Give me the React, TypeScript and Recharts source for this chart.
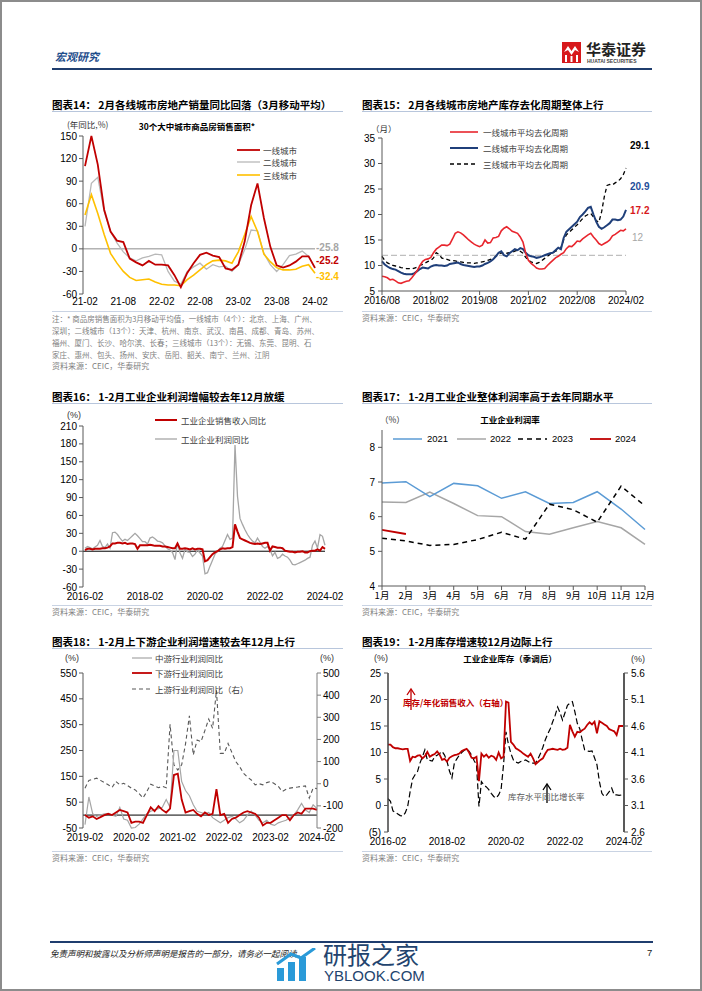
import React from "react";
import { LineChart, Line, XAxis, YAxis, ReferenceLine, LabelList } from "recharts";

const FONT = "'Liberation Sans', Arial, 'Noto Sans CJK SC', sans-serif";
const CJK = "'Noto Sans CJK SC', 'Liberation Sans', sans-serif";

// 图表14: 30城商品房销售面积同比 (3月移动平均), 21-02 ~ 24-02
const labels14 = ["21-02", "21-08", "22-02", "22-08", "23-02", "23-08", "24-02"];
const tier1Sales = [110, 150, 112, 52, 23, 11, 9, -13, -18, -22, -16, -21, -21, -22, -35, -51, -32, -19, -8, -5, -9, -11, -26, -28, -21, 10, 58, 87, 41, 3, -22, -25, -22, -17, -10, -10, -25.2];
const tier2Sales = [30, 87, 95, 50, 23, 8, -4, -12, -16, -12, -10, -7, -8, -30, -43, -47, -30, -24, -19, -27, -21, -24, -23, -30, -21, -1, 25, 24, -6, -21, -30, -21, -9, -7, -3, -10, -25.8];
const tier3Sales = [45, 72, 47, 19, -6, -19, -30, -38, -42, -41, -40, -44, -47, -48, -48, -49, -41, -35, -28, -21, -16, -15, -16, -19, -4, 19, 43, 23, -7, -17, -25, -28, -28, -27, -23, -21, -32.4];

// 图表15: 平均去化周期 (月), 2016/08 ~ 2024/02
const labels15 = ["2016/08", "2018/02", "2019/08", "2021/02", "2022/08", "2024/02"];
const tier1Cycle = [
  7.9, 7.8, 7.6, 7.2, 7.3, 7.0, 6.6, 6.5, 6.7, 6.9,
  7.0, 7.6, 8.3, 9.0, 10.0, 10.8, 11.2, 11.3, 11.6, 12.5,
  13.2, 13.6, 14.0, 14.0, 13.9, 14.2, 15.2, 16.3, 16.6, 16.4,
  16.0, 15.5, 15.0, 14.6, 14.2, 13.9, 13.7, 14.0, 15.0, 14.4,
  14.5, 15.4, 15.5, 15.7, 16.8, 17.3, 17.6, 17.2, 16.7, 16.5,
  16.3, 15.6, 14.6, 12.4, 11.0, 10.4, 10.0, 9.5, 9.3, 9.3,
  9.4, 10.0, 10.5, 11.0, 11.5, 11.8, 12.2, 12.5, 13.3, 13.8,
  13.7, 14.2, 14.8, 14.7, 15.2, 15.6, 16.0, 16.3, 15.6, 15.0,
  14.3, 14.0, 14.3, 14.6, 15.0, 15.8, 16.1, 16.5, 16.9, 16.8,
  17.2,
];
const tier2Cycle = [
  10.8, 10.2, 9.8, 9.5, 9.3, 9.2, 8.9, 8.6, 8.4, 8.3,
  8.3, 8.3, 8.5, 8.9, 9.3, 9.6, 9.5, 9.4, 9.8, 10.0,
  10.1, 10.0, 10.0, 9.9, 10.0, 10.3, 10.4, 10.5, 10.6, 10.3,
  10.1, 10.0, 9.9, 9.8, 9.7, 9.8, 9.8, 10.0, 10.3, 10.5,
  10.8, 11.2, 11.8, 12.5, 12.8, 12.0, 11.8, 12.4, 12.8, 13.2,
  13.0, 13.4, 13.2, 12.5, 12.0, 11.8, 11.7, 11.5, 11.6, 11.8,
  12.0, 12.2, 12.4, 12.5, 13.0, 13.5, 13.2, 15.4, 16.6, 17.1,
  17.6, 18.1, 18.6, 19.5, 20.0, 20.6, 21.3, 21.5, 20.0, 18.6,
  17.6, 17.2, 17.5, 17.9, 18.3, 19.0, 19.0, 18.9, 19.0, 19.6,
  20.9,
];
const tier3Cycle = [
  11.8, 11.0, 10.5, 10.3, 10.0, 9.9, 9.8, 9.6, 9.5, 9.4,
  9.4, 9.3, 9.5, 9.7, 10.0, 10.2, 10.5, 10.8, 11.0, 11.5,
  12.5, 12.2, 11.5, 11.3, 11.2, 11.0, 11.0, 10.9, 10.8, 10.7,
  10.6, 10.5, 10.5, 10.5, 10.4, 10.5, 10.6, 10.7, 10.8, 11.0,
  11.2, 11.4, 11.8, 12.2, 12.5, 12.4, 12.4, 12.5, 12.6, 12.8,
  13.0, 12.8, 12.4, 11.6, 11.0, 10.7, 10.5, 10.4, 10.6, 11.0,
  11.4, 11.8, 12.2, 12.5, 12.8, 13.0, 13.5, 15.0, 16.0, 16.5,
  17.0, 17.5, 18.0, 18.6, 19.2, 19.7, 20.0, 20.2, 19.5, 18.8,
  18.5, 20.5, 23.5, 25.7, 25.9, 25.8, 26.2, 26.5, 27.0, 27.8,
  29.1,
];
const cycleRef = 12;

// 图表16: 工业企业营收/利润同比 (%), 2016-02 ~ 2024-02
const labels16 = ["2016-02", "2018-02", "2020-02", "2022-02", "2024-02"];
const revenueYoy = [
  2, 4, 4, 3, 4, 4, 4, 5, 5, 6, 8,
  13, 13, 14, 14, 13, 14, 12, 13, 13, 12, 4, 10,
  10, 10, 10, 11, 10, 9, 9, 9, 8, 8, 7, 6,
  5, 5, 13, 4, 4, 5, 4, 3, 5, 3, 4, 4,
  3, -17, -15, -10, -5, -2, 0, 3, 5, 4, 5, 5,
  7, 45, 33, 22, 20, 18, 16, 14, 13, 12, 13, 12,
  13, 14, 14, 1, 8, 7, 6, 6, 5, 1, 0, -1,
  -1, -2, -1, -1, 0, -2, -2, 0, 1, 1, 3, 1,
  7, 4,
];
const profitYoy = [
  5, 8, 6, 4, 7, 10, 18, 8, 6, 12, 5,
  31, 32, 28, 22, 17, 20, 18, 22, 26, 30, 26, 21,
  16, 16, 12, 22, 24, 21, 17, 16, 14, 9, 4, 2,
  -2, -14, 14, -3, -12, 3, -1, -2, -9, -5, 2, -3,
  -8, -38, -36, -25, -15, -5, 0, 5, 8, 18, 28, 20,
  22, 178, 92, 55, 45, 36, 28, 22, 17, 14, 22, 15,
  8, 5, 8, 3, -8, -2, -12, -10, -5, -8, -10, -15,
  -22, -23, -21, -19, -17, -15, -12, -10, 10, 17, 5, 28,
  25, 10,
];

// 图表17: 工业企业利润率 (%)
const months17 = ["1月", "2月", "3月", "4月", "5月", "6月", "7月", "8月", "9月", "10月", "11月", "12月"];
const margin2021 = [6.97, 7.01, 6.58, 6.96, 6.89, 6.53, 6.72, 6.38, 6.41, 6.72, 6.22, 5.63];
const margin2022 = [6.42, 6.41, 6.71, 6.38, 6.03, 6.0, 5.57, 5.49, 5.68, 5.86, 5.68, 5.2];
const margin2023 = [5.38, 5.3, 5.17, 5.2, 5.34, 5.55, 5.35, 6.36, 6.2, 5.84, 6.88, 6.31];
const margin2024 = [5.62, 5.5];

// 图表18: 上中下游利润同比 (%), 2019-02 ~ 2024-02
const labels18 = ["2019-02", "2020-02", "2021-02", "2022-02", "2023-02", "2024-02"];
const midProfit = [
  -37, 70, 5, -5, 0, 5, 5, 0, -5, 30, -15, -20,
  -50, -48, -35, -15, 5, 15, 20, 25, 30, 60, 30, 250,
  250, 130, 95, 75, 40, 15, 10, 5, 10, -10, -20, -30,
  -20, -10, -5, -15, -30, -20, 0, 15, 0, -20, -30, -20,
  -35, -40, -30, -25, -20, -10, 0, 20, 45, 20, 10, 40,
  25,
];
const downProfit = [
  0, -10, -5, -15, -8, 0, 5, 0, 10, 20, 15, 10,
  -30, -25, -25, -30, 0, 30, 15, 35, 20, 10, 25, 155,
  160, 60, 10, 15, 20, 5, -5, 10, 0, 5, 100, 0,
  5, -30, -15, -10, 0, 10, 15, 10, 5, -10, -40, -30,
  -30, -20, -10, 0, 0, -20, 0, 10, 5, 25, 25, 25,
  20,
];
const upProfit = [
  -20, 15, 20, 25, 15, 5, -5, -17, 10, -5, 2, -8,
  -20, -28, -45, -65, -35, -2, -10, -18, -12, -18, 268, 85,
  62, 85, 180, 307, 130, 197, 190, 240, 292, 250, 422, 137,
  137, 182, 140, 100, 77, 47, 30, 17, -5, 0, -5, 5,
  10, 0, -12, -35, -25, -20, -17, -15, -12, -10, -65, -20,
  -22,
];

// 图表19: 工业企业库存 (季调后), 2016-02 ~ 2024-02
const labels19 = ["2016-02", "2018-02", "2020-02", "2022-02", "2024-02"];
const invToSales = [
  4.25, 4.25, 4.2, 4.18, 4.18, 4.17, 4.16, 4.17, 4.17, 3.94,
  4.02, 4.01, 4.04, 4.05, 3.99, 4.03, 4.11, 4.02, 4.05, 4.07,
  4.12, 4.06, 3.96, 3.98, 3.93, 4.0, 4.03, 4.05, 4.06, 4.08,
  4.13, 4.15, 4.17, 4.1, 4.0, 3.99, 4.02, 3.56, 4.08, 4.02,
  4.06, 4.0, 4.04, 4.02, 3.96, 4.1, 3.99, 4.02, 5.06, 5.04,
  4.3, 4.25, 4.18, 4.15, 4.12, 4.08, 4.05, 4.02, 4.08, 3.99,
  3.88, 3.92, 3.96, 3.99, 4.08, 4.15, 4.16, 4.17, 4.16, 4.15,
  4.17, 4.15, 4.16, 4.19, 4.62, 4.5, 4.4, 4.49, 4.48, 4.52,
  4.55, 4.62, 4.67, 4.63, 4.68, 4.46, 4.69, 4.66, 4.63, 4.6,
  4.54, 4.52, 4.5, 4.43, 4.6, 4.6, 4.6,
];
const invYoy = [
  1.3, 0.8, -1.0, -1.3, -1.6, -1.9, -2.0, -1.4, -0.2, 2.6,
  5.0, 5.8, 6.4, 8.0, 9.2, 10.5, 8.6, 8.5, 8.4, 9.2,
  9.5, 9.8, 10.2, 9.5, 8.3, 6.5, 5.2, 8.0, 8.8, 9.5,
  10.0, 10.4, 10.7, 10.2, 9.5, 8.5, 7.7, -0.2, 4.5, 3.9,
  3.5, 3.0, 2.3, 1.7, 1.4, 2.0, 3.0, 7.7, 13.9, 11.5,
  9.8, 8.6, 8.2, 8.0, 8.3, 8.4, 8.6, 8.3, 8.0, 8.0,
  8.0, 8.8, 9.8, 11.0, 12.4, 13.5, 14.5, 15.8, 17.0, 18.6,
  17.5, 16.1, 17.5, 18.9, 19.3, 19.6, 17.7, 15.5, 14.5, 12.4,
  10.5, 10.3, 10.2, 10.3, 9.0, 7.7, 4.5, 2.3, 1.7, 2.0,
  2.6, 3.3, 2.0, 2.0, 1.9, 2.0, 2.0,
];

const d14 = tier1Sales.map((v, i) => ({ i, t1: v, t2: tier2Sales[i], t3: tier3Sales[i] }));
const d15 = tier1Cycle.map((v, i) => ({ i, t1: v, t2: tier2Cycle[i], t3: tier3Cycle[i] }));
const d16 = revenueYoy.map((v, i) => ({ i, rev: v, pro: profitYoy[i] }));
const d17 = months17.map((m, i) => ({
  m,
  y21: margin2021[i],
  y22: margin2022[i],
  y23: margin2023[i],
  y24: i < margin2024.length ? margin2024[i] : null,
}));
const d18 = midProfit.map((v, i) => ({ i, mid: v, down: downProfit[i], up: upProfit[i] }));
const d19 = invToSales.map((v, i) => ({ i, ratio: v, yoy: invYoy[i] }));

const tick = { fontSize: 10, fill: "#000", fontFamily: FONT };
const axisGray = { stroke: "#595959" };

function Txt({ x, y, size = 9, color = "#000", bold = false, italic = false, align = "left", family = FONT, children }: any) {
  const tx = align === "center" ? "-50%" : align === "right" ? "-100%" : "0";
  return (
    <div
      style={{
        position: "absolute",
        left: x,
        top: y,
        transform: `translate(${tx}, -50%)`,
        fontSize: size,
        color,
        fontWeight: bold ? 700 : 400,
        fontStyle: italic ? "italic" : "normal",
        lineHeight: 1.2,
        whiteSpace: "nowrap",
        fontFamily: family,
      }}
    >
      {children}
    </div>
  );
}

function HLine({ x, y, w, h = 1, color = "#c9d3e3" }: any) {
  return <div style={{ position: "absolute", left: x, top: y, width: w, height: h, background: color }} />;
}

function Swatch({ x, y, w, color, width = 1.5, dash }: any) {
  return (
    <svg style={{ position: "absolute", left: x, top: y - 5 }} width={w} height={10}>
      <line x1={0} y1={5} x2={w} y2={5} stroke={color} strokeWidth={width} strokeDasharray={dash} />
    </svg>
  );
}

// label only on the last point of a series
const endLabel = (last: number, color: string, dy: number, dx = 1) => (p: any) => {
  if (p.index !== last) return null;
  const x = p.x ?? p.viewBox?.x;
  const y = p.y ?? p.viewBox?.y;
  return (
    <text x={x + dx} y={y + dy} fill={color} fontSize={10} fontWeight={700} fontFamily={FONT} dominantBaseline="middle">
      {p.value}
    </text>
  );
};

function Title({ x, y, w, children }: any) {
  return (
    <>
      <Txt x={x} y={y} size={10.5} bold family={CJK}>{children}</Txt>
      <HLine x={x} y={y + 6} w={w} color="#b8c6dc" />
    </>
  );
}

function Source({ x, y }: any) {
  return <Txt x={x} y={y} size={8} color="#808080" family={CJK}>资料来源：CEIC，华泰研究</Txt>;
}

export default function App() {
  return (
    <div style={{ position: "fixed", left: 0, top: 0, width: 702, height: 991, background: "#fff", overflow: "hidden", fontFamily: FONT }}>
      {/* header */}
      <Txt x={55} y={57} size={11} bold italic color="#1f4e8c" family={CJK}>宏观研究</Txt>
      <svg style={{ position: "absolute", left: 562, top: 42 }} width={19} height={21}>
        <rect width={19} height={21} fill="#d7191c" />
        <path d="M2 10 L6 4 L9.5 9 L13 4 L17 10 L13 8 L9.5 13 L6 8 Z" fill="#fff" />
        <rect x={3} y={13} width={2} height={7} fill="#fff" />
        <rect x={8.5} y={14} width={2} height={6} fill="#fff" />
        <rect x={14} y={13} width={2} height={7} fill="#fff" />
      </svg>
      <Txt x={586} y={49} size={15} bold color="#222" family={CJK}>华泰证券</Txt>
      <Txt x={587} y={61} size={5} bold color="#444">HUATAI SECURITIES</Txt>
      <HLine x={52} y={68} w={600} h={2} color="#1f3d6e" />

      {/* 图表14 */}
      <Title x={52} y={105} w={291}>图表14：&nbsp;2月各线城市房地产销量同比回落（3月移动平均）</Title>
      <Txt x={67} y={124} size={8.5} color="#333" family={CJK}>(年同比,%)</Txt>
      <Txt x={197} y={126} size={8.5} bold align="center" family={CJK}>30个大中城市商品房销售面积*</Txt>
      <div style={{ position: "absolute", left: 40, top: 120 }}>
        <LineChart width={310} height={196} data={d14} margin={{ top: 16, right: 35, bottom: 0, left: 0 }}>
          <XAxis dataKey="i" type="number" domain={[0, 36]} ticks={[0, 6, 12, 18, 24, 30, 36]} tickFormatter={(v: number) => labels14[v / 6]} axisLine={false} tickLine={false} tickSize={0} tickMargin={4} height={22} interval={0} tick={tick} padding={{ left: 2, right: 0 }} />
          <YAxis width={43} domain={[-60, 150]} ticks={[-60, -30, 0, 30, 60, 90, 120, 150]} interval={0} tick={tick} tickSize={4} tickMargin={2} axisLine={axisGray} tickLine={axisGray} />
          <ReferenceLine y={0} stroke="#8c8c8c" />
          <Line dataKey="t2" stroke="#b8b8b8" strokeWidth={1.3} dot={false} isAnimationActive={false}>
            <LabelList dataKey="t2" content={endLabel(36, "#a6a6a6", -20)} />
          </Line>
          <Line dataKey="t3" stroke="#ffc000" strokeWidth={1.6} dot={false} isAnimationActive={false}>
            <LabelList dataKey="t3" content={endLabel(36, "#ffc000", 4)} />
          </Line>
          <Line dataKey="t1" stroke="#c00000" strokeWidth={1.8} dot={false} isAnimationActive={false}>
            <LabelList dataKey="t1" content={endLabel(36, "#c00000", -6)} />
          </Line>
        </LineChart>
      </div>
      <Swatch x={237} y={150} w={23} color="#c00000" width={1.8} />
      <Txt x={263} y={150} size={8.5} color="#404040" family={CJK}>一线城市</Txt>
      <Swatch x={237} y={162} w={23} color="#b8b8b8" width={1.3} />
      <Txt x={263} y={162} size={8.5} color="#404040" family={CJK}>二线城市</Txt>
      <Swatch x={237} y={175} w={23} color="#ffc000" width={1.6} />
      <Txt x={263} y={175} size={8.5} color="#404040" family={CJK}>三线城市</Txt>
      <HLine x={52} y={311} w={291} color="#c9d3e3" />
      <Txt x={52} y={318} size={7.5} color="#808080" family={CJK}>注：* 商品房销售面积为3月移动平均值，一线城市（4个）：北京、上海、广州、</Txt>
      <Txt x={52} y={330} size={7.5} color="#808080" family={CJK}>深圳；二线城市（13个）：天津、杭州、南京、武汉、南昌、成都、青岛、苏州、</Txt>
      <Txt x={52} y={342} size={7.5} color="#808080" family={CJK}>福州、厦门、长沙、哈尔滨、长春；三线城市（13个）：无锡、东莞、昆明、石</Txt>
      <Txt x={52} y={354} size={7.5} color="#808080" family={CJK}>家庄、惠州、包头、扬州、安庆、岳阳、韶关、南宁、兰州、江阴</Txt>
      <Source x={52} y={366} />

      {/* 图表15 */}
      <Title x={362} y={105} w={290}>图表15：&nbsp;2月各线城市房地产库存去化周期整体上行</Title>
      <Txt x={371} y={128} size={8.5} color="#333" family={CJK}>（月）</Txt>
      <div style={{ position: "absolute", left: 350, top: 120 }}>
        <LineChart width={310} height={191} data={d15} margin={{ top: 18, right: 34, bottom: 0, left: 0 }}>
          <XAxis dataKey="i" type="number" domain={[0, 90]} ticks={[0, 18, 36, 54, 72, 90]} tickFormatter={(v: number) => labels15[v / 18]} axisLine={axisGray} tickLine={axisGray} tickSize={4} tickMargin={2} height={20} interval={0} tick={tick} />
          <YAxis width={32} domain={[5, 35]} ticks={[5, 10, 15, 20, 25, 30, 35]} interval={0} tick={tick} tickSize={4} tickMargin={3} axisLine={axisGray} tickLine={axisGray} />
          <ReferenceLine y={cycleRef} stroke="#b0b0b0" strokeDasharray="6 3" />
          <Line dataKey="t3" stroke="#000" strokeWidth={1.3} strokeDasharray="4 3" dot={false} isAnimationActive={false}>
            <LabelList dataKey="t3" content={endLabel(90, "#000", -22, 4)} />
          </Line>
          <Line dataKey="t2" stroke="#1f3f7a" strokeWidth={2} dot={false} isAnimationActive={false}>
            <LabelList dataKey="t2" content={endLabel(90, "#1f4e9a", -23, 4)} />
          </Line>
          <Line dataKey="t1" stroke="#e8262e" strokeWidth={1.6} dot={false} isAnimationActive={false}>
            <LabelList dataKey="t1" content={endLabel(90, "#d7191c", -17, 4)} />
          </Line>
        </LineChart>
      </div>
      <Txt x={632} y={238} size={10} color="#a6a6a6">{cycleRef}</Txt>
      <Swatch x={450} y={132} w={28} color="#e8262e" width={1.6} />
      <Txt x={483} y={132} size={8.5} color="#404040" family={CJK}>一线城市平均去化周期</Txt>
      <Swatch x={450} y={148} w={28} color="#1f3f7a" width={2} />
      <Txt x={483} y={148} size={8.5} color="#404040" family={CJK}>二线城市平均去化周期</Txt>
      <Swatch x={450} y={164} w={28} color="#000" width={1.3} dash="4 3" />
      <Txt x={483} y={164} size={8.5} color="#404040" family={CJK}>三线城市平均去化周期</Txt>
      <HLine x={362} y={311} w={290} color="#c9d3e3" />
      <Source x={362} y={318} />

      {/* 图表16 */}
      <Title x={52} y={397} w={291}>图表16：&nbsp;1-2月工业企业利润增幅较去年12月放缓</Title>
      <Txt x={67} y={415} size={9} color="#333">(%)</Txt>
      <div style={{ position: "absolute", left: 40, top: 410 }}>
        <LineChart width={310} height={197} data={d16} margin={{ top: 16, right: 25, bottom: 0, left: 0 }}>
          <XAxis dataKey="i" type="number" domain={[0, 96]} ticks={[0, 24, 48, 72, 96]} tickFormatter={(v: number) => labels16[v / 24]} axisLine={false} tickLine={false} tickSize={0} tickMargin={6} height={20} interval={0} tick={tick} padding={{ left: 2, right: 0 }} />
          <YAxis width={43} domain={[-60, 210]} ticks={[-60, -30, 0, 30, 60, 90, 120, 150, 180, 210]} interval={0} tick={tick} tickSize={4} tickMargin={2} axisLine={axisGray} tickLine={axisGray} />
          <ReferenceLine y={0} stroke="#000" />
          <Line dataKey="pro" stroke="#a6a6a6" strokeWidth={1.3} dot={false} isAnimationActive={false} />
          <Line dataKey="rev" stroke="#c00000" strokeWidth={2} dot={false} isAnimationActive={false} />
        </LineChart>
      </div>
      <Swatch x={155} y={420} w={22} color="#c00000" width={2} />
      <Txt x={181} y={420} size={8.5} color="#404040" family={CJK}>工业企业销售收入同比</Txt>
      <Swatch x={155} y={439} w={22} color="#a6a6a6" width={1.3} />
      <Txt x={181} y={439} size={8.5} color="#404040" family={CJK}>工业企业利润同比</Txt>
      <HLine x={52} y={605} w={291} color="#c9d3e3" />
      <Source x={52} y={612} />

      {/* 图表17 */}
      <Title x={362} y={397} w={290}>图表17：&nbsp;1-2月工业企业整体利润率高于去年同期水平</Title>
      <Txt x={380} y={419} size={8.5} color="#333" family={CJK}>（%）</Txt>
      <Txt x={510} y={419} size={8.5} bold align="center" family={CJK}>工业企业利润率</Txt>
      <div style={{ position: "absolute", left: 350, top: 410 }}>
        <LineChart width={310} height={198} data={d17} margin={{ top: 20, right: 15, bottom: 0, left: 0 }}>
          <XAxis dataKey="m" axisLine={axisGray} tickLine={axisGray} tickSize={4} tickMargin={2} height={22} interval={0} tick={{ ...tick, fontFamily: CJK, fontSize: 9.5 }} />
          <YAxis width={32} domain={[4, 8.5]} ticks={[4, 5, 6, 7, 8]} interval={0} tick={tick} tickSize={4} tickMargin={3} axisLine={axisGray} tickLine={axisGray} />
          <Line dataKey="y22" stroke="#a6a6a6" strokeWidth={1.5} dot={false} isAnimationActive={false} />
          <Line dataKey="y21" stroke="#5b9bd5" strokeWidth={1.5} dot={false} isAnimationActive={false} />
          <Line dataKey="y23" stroke="#000" strokeWidth={1.5} strokeDasharray="5 4" dot={false} isAnimationActive={false} />
          <Line dataKey="y24" stroke="#c00000" strokeWidth={1.8} dot={false} isAnimationActive={false} />
        </LineChart>
      </div>
      <Swatch x={393} y={439} w={29} color="#5b9bd5" width={1.5} />
      <Txt x={427} y={439} size={9.5}>2021</Txt>
      <Swatch x={457} y={439} w={29} color="#a6a6a6" width={1.5} />
      <Txt x={490} y={439} size={9.5}>2022</Txt>
      <Swatch x={518} y={439} w={29} color="#000" width={1.5} dash="5 4" />
      <Txt x={552} y={439} size={9.5}>2023</Txt>
      <Swatch x={590} y={439} w={21} color="#c00000" width={1.8} />
      <Txt x={615} y={439} size={9.5}>2024</Txt>
      <HLine x={362} y={605} w={290} color="#c9d3e3" />
      <Source x={362} y={612} />

      {/* 图表18 */}
      <Title x={52} y={642} w={291}>图表18：&nbsp;1-2月上下游企业利润增速较去年12月上行</Title>
      <Txt x={65} y={658} size={9} color="#333">(%)</Txt>
      <Txt x={320} y={658} size={9} color="#333">(%)</Txt>
      <div style={{ position: "absolute", left: 40, top: 655 }}>
        <LineChart width={310} height={193} data={d18} margin={{ top: 18, right: 0, bottom: 0, left: 0 }}>
          <XAxis dataKey="i" type="number" domain={[0, 60]} ticks={[0, 12, 24, 36, 48, 60]} tickFormatter={(v: number) => labels18[v / 12]} axisLine={false} tickLine={false} tickSize={0} tickMargin={6} height={20} interval={0} tick={tick} padding={{ left: 2, right: 0 }} />
          <YAxis yAxisId="l" width={43} domain={[-50, 550]} ticks={[-50, 50, 150, 250, 350, 450, 550]} interval={0} tick={tick} tickSize={4} tickMargin={2} axisLine={axisGray} tickLine={axisGray} />
          <YAxis yAxisId="r" orientation="right" width={33} domain={[-200, 500]} ticks={[-200, -100, 0, 100, 200, 300, 400, 500]} interval={0} tick={tick} tickSize={4} tickMargin={2} axisLine={{ stroke: "#7f7f7f" }} tickLine={{ stroke: "#7f7f7f" }} />
          <ReferenceLine yAxisId="l" y={0} stroke="#000" />
          <Line yAxisId="r" dataKey="up" stroke="#595959" strokeWidth={1.1} strokeDasharray="4 3" dot={false} isAnimationActive={false} />
          <Line yAxisId="l" dataKey="mid" stroke="#a6a6a6" strokeWidth={1.2} dot={false} isAnimationActive={false} />
          <Line yAxisId="l" dataKey="down" stroke="#c00000" strokeWidth={1.8} dot={false} isAnimationActive={false} />
        </LineChart>
      </div>
      <Swatch x={132} y={658} w={20} color="#a6a6a6" width={1.2} />
      <Txt x={155} y={658} size={8.5} color="#404040" family={CJK}>中游行业利润同比</Txt>
      <Swatch x={132} y={673} w={20} color="#c00000" width={1.8} />
      <Txt x={155} y={673} size={8.5} color="#404040" family={CJK}>下游行业利润同比</Txt>
      <Swatch x={132} y={689} w={20} color="#595959" width={1.1} dash="4 3" />
      <Txt x={155} y={689} size={8.5} color="#404040" family={CJK}>上游行业利润同比（右）</Txt>
      <HLine x={52} y={851} w={291} color="#c9d3e3" />
      <Source x={52} y={858} />

      {/* 图表19 */}
      <Title x={362} y={642} w={290}>图表19：&nbsp;1-2月库存增速较12月边际上行</Title>
      <Txt x={374} y={658} size={9} color="#333">(%)</Txt>
      <Txt x={631} y={659} size={9} color="#333">(%)</Txt>
      <Txt x={510} y={658} size={8.5} bold align="center" family={CJK}>工业企业库存（季调后）</Txt>
      <div style={{ position: "absolute", left: 350, top: 655 }}>
        <LineChart width={310} height={197} data={d19} margin={{ top: 18, right: 0, bottom: 0, left: 0 }}>
          <XAxis dataKey="i" type="number" domain={[0, 96]} ticks={[0, 24, 48, 72, 96]} tickFormatter={(v: number) => labels19[v / 24]} axisLine={false} tickLine={false} tickSize={0} tickMargin={6} height={20} interval={0} tick={tick} />
          <YAxis yAxisId="l" width={38} domain={[-5, 25]} ticks={[-5, 0, 5, 10, 15, 20, 25]} tickFormatter={(v: number) => (v < 0 ? `(${-v})` : `${v}`)} interval={0} tick={tick} tickSize={4} tickMargin={3} axisLine={{ stroke: "#404040", strokeWidth: 1.5 }} tickLine={axisGray} />
          <YAxis yAxisId="r" orientation="right" width={36} domain={[2.6, 5.6]} ticks={[2.6, 3.1, 3.6, 4.1, 4.6, 5.1, 5.6]} tickFormatter={(v: number) => v.toFixed(1)} interval={0} tick={tick} tickSize={4} tickMargin={3} axisLine={{ stroke: "#595959", strokeWidth: 2 }} tickLine={axisGray} />
          <Line yAxisId="l" dataKey="yoy" stroke="#000" strokeWidth={1.2} strokeDasharray="6 3" dot={false} isAnimationActive={false} />
          <Line yAxisId="r" dataKey="ratio" stroke="#c00000" strokeWidth={1.8} dot={false} isAnimationActive={false} />
        </LineChart>
      </div>
      <svg style={{ position: "absolute", left: 400, top: 686 }} width={160} height={122}>
        <line x1={11} y1={24} x2={11} y2={4} stroke="#c00000" strokeWidth={1.3} />
        <polyline points="7,9 11,3 15,9" fill="none" stroke="#c00000" strokeWidth={1.3} />
        <line x1={147} y1={117} x2={147} y2={99} stroke="#000" strokeWidth={1.3} />
        <polyline points="143,104 147,98 151,104" fill="none" stroke="#000" strokeWidth={1.3} />
      </svg>
      <Txt x={403} y={702} size={8.5} bold color="#c00000" family={CJK}>库存/年化销售收入（右轴）</Txt>
      <Txt x={508} y={796} size={8.5} color="#595959" family={CJK}>库存水平同比增长率</Txt>
      <HLine x={362} y={851} w={290} color="#c9d3e3" />
      <Source x={362} y={858} />

      {/* footer */}
      <HLine x={50} y={941} w={603} h={2} color="#1f3d6e" />
      <Txt x={50} y={953} size={8.5} italic color="#222" family={CJK}>免责声明和披露以及分析师声明是报告的一部分，请务必一起阅读。</Txt>
      <Txt x={647} y={953} size={9.5} color="#222">7</Txt>
      <svg style={{ position: "absolute", left: 275, top: 948 }} width={42} height={34}>
        <rect x={2} y={20} width={7} height={13} fill="#2a9ad8" />
        <rect x={13} y={14} width={7} height={19} fill="#2a9ad8" />
        <rect x={24} y={9} width={7} height={24} fill="#2a9ad8" />
        <polyline points="2,16 16,6 26,10 40,0" fill="none" stroke="#2a9ad8" strokeWidth={3} />
      </svg>
      <Txt x={323} y={954} size={24} color="#23446e" family={CJK}>研报之家</Txt>
      <Txt x={324} y={976} size={15} color="#23446e">YBLOOK.COM</Txt>

      <div style={{ position: "absolute", left: 0, top: 0, width: 702, height: 991, boxSizing: "border-box", border: "2px solid #8c8c8c", pointerEvents: "none" }} />
    </div>
  );
}
